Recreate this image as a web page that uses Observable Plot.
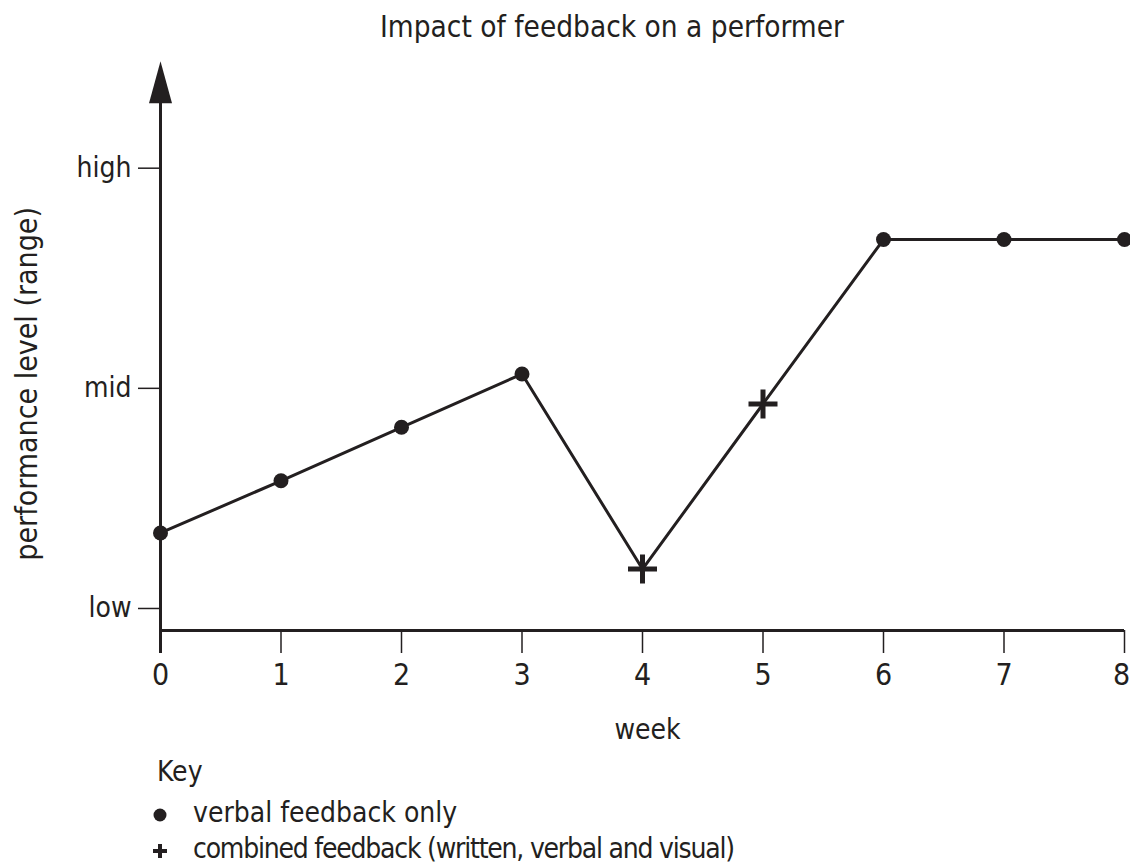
<!DOCTYPE html>
<html>
<head>
<meta charset="utf-8">
<script src="https://cdn.jsdelivr.net/npm/d3@7"></script>
<script src="https://cdn.jsdelivr.net/npm/@observablehq/plot@0.6"></script>
<style>
  html, body { margin: 0; padding: 0; background: #fff; }
  #page { position: relative; width: 1130px; height: 866px; overflow: hidden;
          font-family: "DejaVu Sans Condensed", "DejaVu Sans", sans-serif; font-stretch: condensed; color: #231f20; }
  #title { position: absolute; top: 13px; left: 0; width: 1224px; text-align: center; font-size: 29.5px; line-height: 29.5px; }
  #chart { position: absolute; top: 50px; left: 0; }
  #legend { position: absolute; top: 750px; left: 0; }
</style>
</head>
<body>
<div id="page">
  <div id="title">Impact of feedback on a performer</div>
  <div id="chart"></div>
  <svg id="legend" width="1130" height="116" font-size="28" fill="#231f20">
    <text x="157" y="31">Key</text>
    <circle cx="160" cy="65" r="6.5" fill="#231f20"></circle>
    <text x="193" y="72">verbal feedback only</text>
    <path d="M153,101H167M160,94V108" stroke="#231f20" stroke-width="4" fill="none"></path>
    <text x="193" y="108" textLength="542" lengthAdjust="spacing">combined feedback (written, verbal and visual)</text>
  </svg>
</div>
<script>
const ink = "#231f20";

// data
const weeks = [0, 1, 2, 3, 4, 5, 6, 7, 8];
const performance = [1.343, 1.580, 1.823, 2.065, 1.179, 1.929, 2.676, 2.676, 2.676];
const feedback = ["verbal", "verbal", "verbal", "verbal", "combined", "combined", "verbal", "verbal", "verbal"];
const levelValues = [1, 2, 3];
const levelLabels = ["low", "mid", "high"];
const weekTicks = [0, 1, 2, 3, 4, 5, 6, 7, 8];
const yDomain = [0.9, 3.486];
const arrowBase = 3.295;

const data = weeks.map((w, i) => ({week: w, level: performance[i], type: feedback[i]}));
const lastWeek = weekTicks[weekTicks.length - 1];

const arrowSymbol = {draw(ctx) { ctx.moveTo(0, 0); ctx.lineTo(11.5, 42); ctx.lineTo(-11.5, 42); ctx.closePath(); }};
const plusSymbol = {draw(ctx) { const s = 14.5; ctx.moveTo(-s, 0); ctx.lineTo(s, 0); ctx.moveTo(0, -s); ctx.lineTo(0, s); }};

const chart = Plot.plot({
  width: 1130,
  height: 700,
  marginLeft: 160,
  marginRight: 6,
  marginTop: 10.7,
  marginBottom: 120,
  x: {domain: [0, 8]},
  y: {domain: yDomain},
  style: {fontFamily: '"DejaVu Sans Condensed", "DejaVu Sans", sans-serif', fontSize: "28px", color: ink, background: "white", overflow: "visible"},
  marks: [
    Plot.axisY(levelValues, {tickFormat: d => levelLabels[levelValues.indexOf(d)], tickSize: 22, tickPadding: 7, fontSize: 28, strokeWidth: 1.5, label: null, color: ink}),
    Plot.axisX(weekTicks, {tickFormat: d => (d === lastWeek ? "" : String(d)), tickSize: 23, tickPadding: 10, fontSize: 30, strokeWidth: 1.5, label: null, color: ink}),
    Plot.text([lastWeek], {x: d => d, text: d => String(d), frameAnchor: "bottom", lineAnchor: "top", textAnchor: "middle", dy: 33, dx: -3, fontSize: 30, fill: ink}),
    Plot.ruleY([yDomain[0]], {stroke: ink, strokeWidth: 3}),
    Plot.ruleX([0], {y1: () => arrowBase, y2: () => yDomain[0], insetBottom: -23, stroke: ink, strokeWidth: 3}),
    Plot.dot([yDomain[1]], {x: () => 0, y: d => d, symbol: arrowSymbol, fill: ink, stroke: "none"}),
    Plot.text(["performance level (range)"], {text: d => d, frameAnchor: "left", textAnchor: "middle", lineAnchor: "middle", rotate: -90, dx: -133, dy: 38, fontSize: 30, fill: ink}),
    Plot.text(["week"], {text: d => d, frameAnchor: "bottom", textAnchor: "middle", dx: 5, dy: 108, fontSize: 28, fill: ink}),
    Plot.line(data, {x: "week", y: "level", stroke: ink, strokeWidth: 3}),
    Plot.dot(data.filter(d => d.type === "verbal"), {x: "week", y: "level", r: 7.5, fill: ink, stroke: "none"}),
    Plot.dot(data.filter(d => d.type === "combined"), {x: "week", y: "level", symbol: plusSymbol, fill: "none", stroke: ink, strokeWidth: 5})
  ]
});
document.getElementById("chart").appendChild(chart);
</script>
</body>
</html>
